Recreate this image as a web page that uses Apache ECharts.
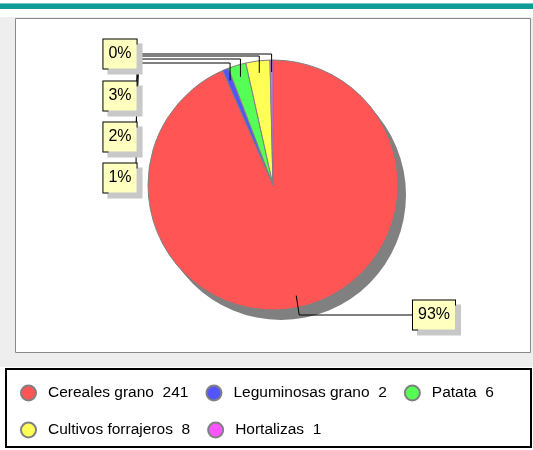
<!DOCTYPE html>
<html><head><meta charset="utf-8">
<script src="https://cdn.jsdelivr.net/npm/echarts@6/dist/echarts.min.js"></script>
<style>html,body{margin:0;padding:0;background:#fff}#c{width:533px;height:450px}</style>
</head><body><div id="c"></div>
<script>
const categories = ['Cereales grano','Leguminosas grano','Patata','Cultivos forrajeros','Hortalizas'];
const values = [241, 2, 6, 8, 1];
const colors = ['#ff5555','#5555ff','#55ff55','#ffff55','#ff55ff'];

// layout constants (pixels)
const CX = 273, CY = 185, R = 125;
const SHADOW_DX = 8, SHADOW_DY = 10;
// label box centres and leader-line routing
const LABEL_BOX = [[434,315],[120,178],[120,137],[120,96],[120,54]];
const LEADER_Y = [315, 63, 59, 56, 54];
const LEADER_X = [413, 137, 139, 141, 142];

const total = values.reduce((a,b)=>a+b,0);
function midAngle(i){
  let s = 0; for (let k=0;k<i;k++) s += values[k];
  return (s + values[i]/2) / total * Math.PI * 2;
}
const data = categories.map((n,i)=>({name:n, value:values[i], itemStyle:{color:colors[i]}}));
const labelData = categories.map((n,i)=>({name:n, value:values[i]}));

const chart = echarts.init(document.getElementById('c'));
chart.setOption({
  animation:false,
  backgroundColor:'#ffffff',
  graphic:[
    {type:'rect', shape:{x:0,y:3,width:533,height:6}, style:{fill:'#0e9a97'}, z:0},
    {type:'rect', shape:{x:0,y:3,width:533,height:1}, style:{fill:'#6cc9c6'}, z:0},
    {type:'rect', shape:{x:0,y:17,width:533,height:350}, style:{fill:'#eeeeee'}, z:0},
    {type:'rect', shape:{x:15.5,y:18.5,width:515,height:334}, style:{fill:'#ffffff', stroke:'#888888', lineWidth:1}, z:0},
    {type:'rect', shape:{x:6,y:369,width:525,height:78}, style:{fill:'#ffffff', stroke:'#000000', lineWidth:2}, z:0}
  ],
  legend:{
    left:15, top:378, width:505,
    icon:'circle', itemWidth:15, itemHeight:15, itemGap:17,
    data:categories,
    formatter: function(name){ return name + '  ' + values[categories.indexOf(name)]; },
    textStyle:{fontSize:15.5, fontFamily:'Liberation Sans, Arial, sans-serif', color:'#000', padding:[0,0,0,7], lineHeight:20}
  },
  series:[
    {
      type:'pie', silent:true, z:1, center:[CX+SHADOW_DX, CY+SHADOW_DY], radius:R,
      startAngle:90, clockwise:true,
      data: values.map((v,i)=>({name:'s'+i, value:v})),
      itemStyle:{color:'#808080'},
      label:{show:false}, labelLine:{show:false}, legendHoverLink:false
    },
    {
      type:'pie', z:2, center:[CX, CY], radius:R, startAngle:90, clockwise:true,
      data:data,
      itemStyle:{borderColor:'#808080', borderWidth:1},
      label:{show:false}, labelLine:{show:false}
    },
    {
      type:'pie', z:3, silent:true, legendHoverLink:false,
      center:[CX, CY], radius:R, startAngle:90, clockwise:true,
      data:labelData,
      itemStyle:{color:'rgba(0,0,0,0)', borderWidth:0},
      label:{
        show:true, position:'outside',
        formatter: function(p){ return Math.round(p.value/total*100) + '%'; },
        fontSize:16, fontFamily:'Liberation Sans, Arial, sans-serif', color:'#000',
        backgroundColor:'#ffffc0', borderColor:'#000', borderWidth:1,
        padding:[6,5,5,5], lineHeight:18,
        shadowColor:'#c8c8c8', shadowOffsetX:5, shadowOffsetY:5, shadowBlur:0
      },
      labelLine:{show:true, showAbove:true, length:10, length2:10, lineStyle:{color:'#000', width:1}},
      labelLayout: function(p){
        const i = p.dataIndex;
        const a = midAngle(i);
        const ix = CX + (R-12)*Math.sin(a), iy = CY - (R-12)*Math.cos(a);
        const box = LABEL_BOX[i];
        let pts;
        if (i === 0) {
          pts = [[ix,iy],[ix+3,LEADER_Y[i]],[LEADER_X[i],LEADER_Y[i]]];
        } else {
          pts = [[ix,iy],[ix,LEADER_Y[i]],[LEADER_X[i],LEADER_Y[i]],[box[0]+16,box[1]-10]];
        }
        return {x:box[0], y:box[1], align:'center', verticalAlign:'middle', labelLinePoints:pts};
      }
    }
  ]
});
</script></body></html>
